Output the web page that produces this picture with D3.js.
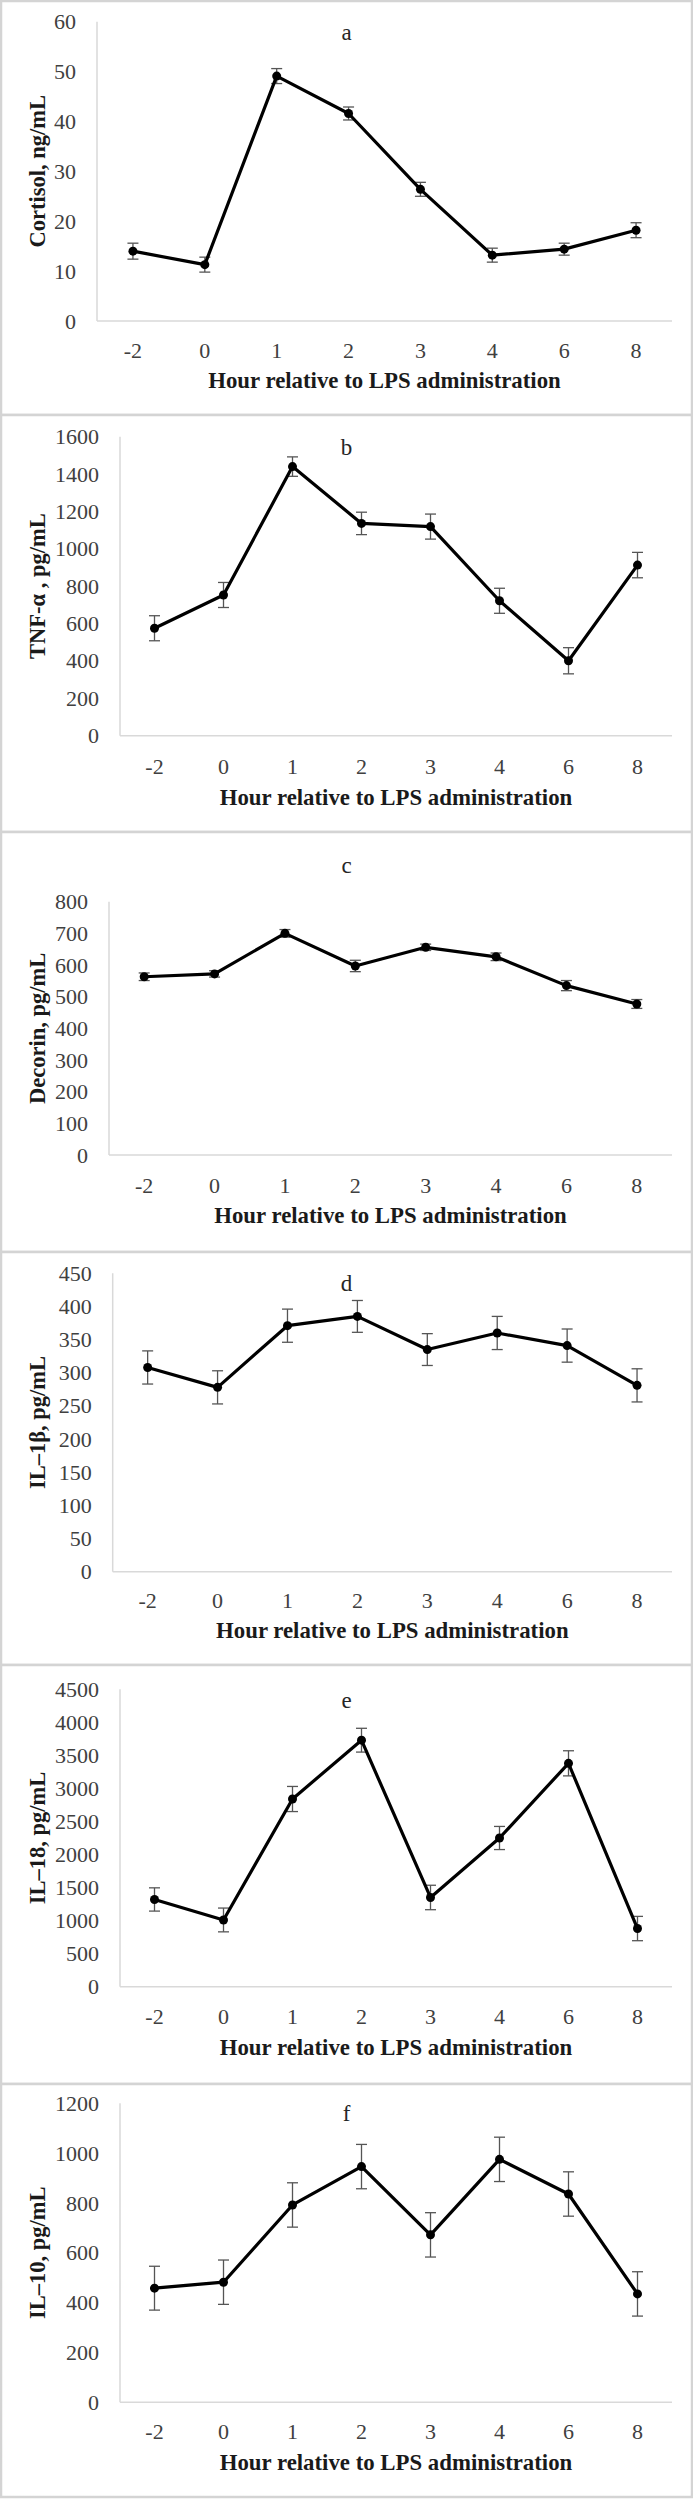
<!DOCTYPE html>
<html>
<head>
<meta charset="utf-8">
<script src="https://cdn.jsdelivr.net/npm/d3@7"></script>
<style>
  html, body { margin: 0; padding: 0; background: #ffffff; }
  svg { display: block; }
  text { font-family: "Liberation Serif", "Times New Roman", serif; }
</style>
</head>
<body>
<svg id="chart" width="693" height="2499"></svg>
<script>
// ---------------- DATA ----------------
const hours = ["-2", "0", "1", "2", "3", "4", "6", "8"];

const cortisol    = [14.0, 11.3, 49.1, 41.6, 26.4, 13.2, 14.4, 18.2];
const cortisolErr = [1.6, 1.5, 1.5, 1.3, 1.4, 1.4, 1.2, 1.5];
const cortisolTicks = [0, 10, 20, 30, 40, 50, 60];

const tnfAlpha    = [575, 753, 1440, 1136, 1119, 722, 401, 913];
const tnfAlphaErr = [67, 67, 52, 60, 67, 67, 70, 68];
const tnfAlphaTicks = [0, 200, 400, 600, 800, 1000, 1200, 1400, 1600];

const decorin    = [563, 572, 700, 597, 656, 626, 535, 477];
const decorinErr = [12, 10, 12, 18, 10, 12, 16, 14];
const decorinTicks = [0, 100, 200, 300, 400, 500, 600, 700, 800];

const il1b    = [308, 278, 371, 385, 335, 360, 341, 281];
const il1bErr = [25, 25, 25, 24, 24, 25, 25, 25];
const il1bTicks = [0, 50, 100, 150, 200, 250, 300, 350, 400, 450];

const il18    = [1320, 1010, 2840, 3730, 1350, 2250, 3380, 880];
const il18Err = [176, 180, 190, 180, 185, 175, 190, 184];
const il18Ticks = [0, 500, 1000, 1500, 2000, 2500, 3000, 3500, 4000, 4500];

const il10    = [458, 482, 792, 946, 672, 975, 836, 435];
const il10Err = [88, 89, 89, 89, 89, 89, 89, 89];
const il10Ticks = [0, 200, 400, 600, 800, 1000, 1200];

const panelLetters = ["a", "b", "c", "d", "e", "f"];
const yTitles = ["Cortisol, ng/mL", "TNF-\u03b1 , pg/mL", "Decorin, pg/mL",
                 "IL\u20131\u03b2, pg/mL", "IL\u201318, pg/mL", "IL\u201310, pg/mL"];
const xTitle = "Hour relative to LPS administration";

// ---------------- LAYOUT (pixel positions) ----------------
const panels = [
  { values: cortisol, errs: cortisolErr, ticks: cortisolTicks,
    top: 1, bottom: 415, axisX: 97, yMaxPx: 21.7, yZeroPx: 321, tickY: 350, titleY: 380, letterY: 32 },
  { values: tnfAlpha, errs: tnfAlphaErr, ticks: tnfAlphaTicks,
    top: 415, bottom: 832, axisX: 120, yMaxPx: 436.7, yZeroPx: 735.7, tickY: 766.7, titleY: 796.7, letterY: 446.7 },
  { values: decorin, errs: decorinErr, ticks: decorinTicks,
    top: 832, bottom: 1252, axisX: 109, yMaxPx: 901.7, yZeroPx: 1155, tickY: 1185, titleY: 1215, letterY: 865 },
  { values: il1b, errs: il1bErr, ticks: il1bTicks,
    top: 1252, bottom: 1665, axisX: 112.7, yMaxPx: 1273.3, yZeroPx: 1571.7, tickY: 1600, titleY: 1630, letterY: 1283.3 },
  { values: il18, errs: il18Err, ticks: il18Ticks,
    top: 1665, bottom: 2084, axisX: 120, yMaxPx: 1689.3, yZeroPx: 1986.7, tickY: 2016, titleY: 2046.7, letterY: 1700 },
  { values: il10, errs: il10Err, ticks: il10Ticks,
    top: 2084, bottom: 2497, axisX: 120, yMaxPx: 2103.3, yZeroPx: 2402.3, tickY: 2431.7, titleY: 2461.7, letterY: 2113.3 }
];
const axisRight = 672;
const W = 693;

const svg = d3.select("#chart");

panels.forEach((p, i) => {
  const g = svg.append("g");

  // panel border
  g.append("rect")
    .attr("x", 1).attr("y", p.top)
    .attr("width", W - 2).attr("height", p.bottom - p.top)
    .attr("fill", "#ffffff")
    .attr("stroke", "#d4d4d4").attr("stroke-width", 2.5);

  const yMax = p.ticks[p.ticks.length - 1];
  const x = d3.scaleBand().domain(hours).range([p.axisX, axisRight]).padding(0);
  const y = d3.scaleLinear().domain([0, yMax]).range([p.yZeroPx, p.yMaxPx]);
  const cx = h => x(h) + x.bandwidth() / 2;

  // y axis labels
  const yAxis = g.append("g")
    .attr("transform", `translate(${p.axisX},0)`)
    .call(d3.axisLeft(y).tickValues(p.ticks).tickSize(0).tickPadding(21).tickFormat(d3.format("d")));
  yAxis.select(".domain").remove();
  yAxis.selectAll("text")
    .attr("font-size", 22).attr("fill", "#404040")
    .style("font-family", '"Liberation Serif", serif');

  // x axis labels
  const xAxis = g.append("g")
    .attr("transform", `translate(0,${p.yZeroPx})`)
    .call(d3.axisBottom(x).tickSize(0));
  xAxis.select(".domain").remove();
  xAxis.selectAll("text")
    .attr("y", p.tickY - p.yZeroPx).attr("dy", "0.35em")
    .attr("font-size", 22).attr("fill", "#404040")
    .style("font-family", '"Liberation Serif", serif');

  // axis lines
  g.append("line")
    .attr("x1", p.axisX).attr("x2", p.axisX)
    .attr("y1", y(yMax)).attr("y2", y(0))
    .attr("stroke", "#d9d9d9").attr("stroke-width", 1.5);
  g.append("line")
    .attr("x1", p.axisX).attr("x2", axisRight)
    .attr("y1", y(0)).attr("y2", y(0))
    .attr("stroke", "#d9d9d9").attr("stroke-width", 1.5);

  // axis titles
  g.append("text")
    .attr("x", (p.axisX + axisRight) / 2).attr("y", p.titleY)
    .attr("dy", "0.35em").attr("text-anchor", "middle")
    .attr("font-size", 22.8).attr("font-weight", "bold").attr("fill", "#1a1a1a")
    .text(xTitle);

  g.append("text")
    .attr("transform", `translate(37.5,${(p.yMaxPx + p.yZeroPx) / 2}) rotate(-90)`)
    .attr("dy", "0.35em").attr("text-anchor", "middle")
    .attr("font-size", 22.5).attr("font-weight", "bold").attr("fill", "#1a1a1a")
    .text(yTitles[i]);

  // panel letter
  g.append("text")
    .attr("x", W / 2).attr("y", p.letterY)
    .attr("dy", "0.35em").attr("text-anchor", "middle")
    .attr("font-size", 23).attr("fill", "#262626")
    .text(panelLetters[i]);

  const pts = hours.map((h, k) => ({ h, v: p.values[k], e: p.errs[k] }));

  // error bars
  const eb = g.append("g").attr("stroke", "#555555").attr("stroke-width", 1.3);
  pts.forEach(d => {
    eb.append("line").attr("x1", cx(d.h)).attr("x2", cx(d.h))
      .attr("y1", y(d.v - d.e)).attr("y2", y(d.v + d.e));
    eb.append("line").attr("x1", cx(d.h) - 5.5).attr("x2", cx(d.h) + 5.5)
      .attr("y1", y(d.v - d.e)).attr("y2", y(d.v - d.e));
    eb.append("line").attr("x1", cx(d.h) - 5.5).attr("x2", cx(d.h) + 5.5)
      .attr("y1", y(d.v + d.e)).attr("y2", y(d.v + d.e));
  });

  // line
  g.append("path")
    .datum(pts)
    .attr("fill", "none").attr("stroke", "#000000").attr("stroke-width", 3.2)
    .attr("stroke-linejoin", "round")
    .attr("d", d3.line().x(d => cx(d.h)).y(d => y(d.v)));

  // markers
  g.selectAll("circle.pt").data(pts).enter().append("circle")
    .attr("class", "pt")
    .attr("cx", d => cx(d.h)).attr("cy", d => y(d.v)).attr("r", 4.5)
    .attr("fill", "#000000");
});
</script>
</body>
</html>
